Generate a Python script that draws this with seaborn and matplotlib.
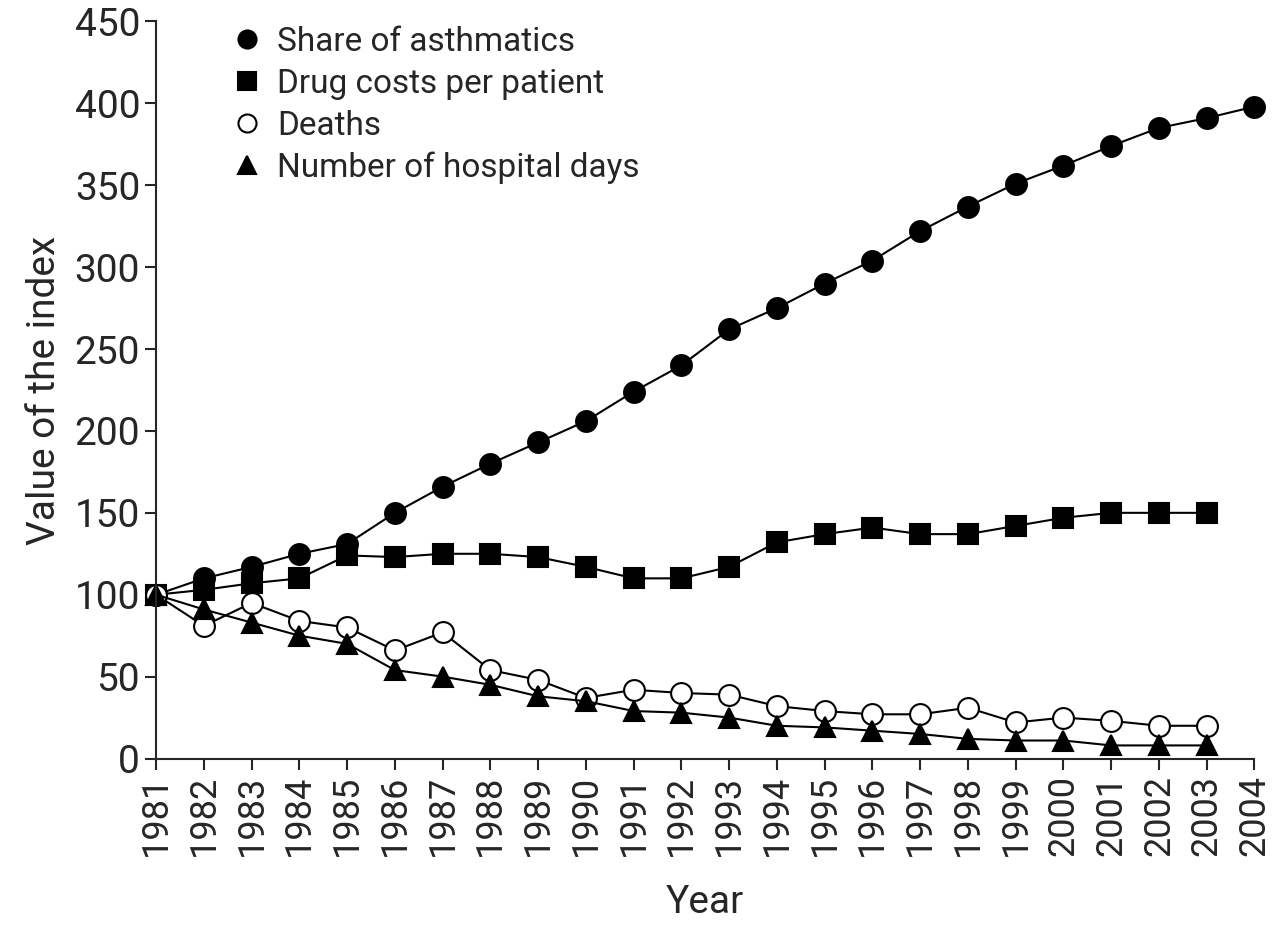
import matplotlib
matplotlib.use("Agg")
import matplotlib.pyplot as plt
import seaborn as sns
import pandas as pd

years = list(range(1981, 2005))
share = [100,110,117,125,131,150,166,180,193,206,224,240,262,275,290,304,322,337,351,362,374,385,391,398]
drug = [100,103,107,110,124,123,125,125,123,117,110,110,117,132,137,141,137,137,142,147,150,150,150]
deaths = [100,81,95,84,80,66,77,54,48,37,42,40,39,32,29,27,27,31,22,25,23,20,20]
hosp = [100,91,83,75,70,54,50,45,38,35,29,28,25,20,19,17,15,12,11,11,8,8,8]
labels = ["Share of asthmatics","Drug costs per patient","Deaths","Number of hospital days"]

sns.set_style("ticks")
plt.rcParams['font.family'] = ['Roboto', 'DejaVu Sans']
fig, ax = plt.subplots(figsize=(12.8, 9.33), dpi=100)
fig.subplots_adjust(left=0.122, right=0.98, top=0.977, bottom=0.187)

series = [(share, 'o', 'black'), (drug, 's', 'black'), (deaths, 'o', 'white'), (hosp, '^', 'black')]
for (vals, m, fc), lab in zip(series, labels):
    df = pd.DataFrame({"Year": years[:len(vals)], "v": vals})
    sns.lineplot(data=df, x="Year", y="v", ax=ax, color='black', lw=1.5, marker=m,
                 markersize=15, markerfacecolor=fc, markeredgecolor='black', markeredgewidth=1.5,
                 label=lab, clip_on=False)

ax.set_xlim(1981, 2004)
ax.set_ylim(0, 450)
ax.set_xticks(years)
ax.set_xticklabels([str(y) for y in years], rotation=90, fontsize=26)
ax.set_yticks(range(0, 451, 50))
ax.tick_params(axis='y', labelsize=28, length=8, width=1.5)
ax.tick_params(axis='x', length=8, width=1.5)
for s in ['top', 'right']:
    ax.spines[s].set_visible(False)
for s in ['left', 'bottom']:
    ax.spines[s].set_linewidth(1.5)
ax.set_xlabel("Year", fontsize=28, labelpad=20)
ax.set_ylabel("Value of the index", fontsize=28, labelpad=8)
ax.legend(loc='upper left', bbox_to_anchor=(0.04, 1.035), frameon=False, fontsize=24,
          handlelength=1, handletextpad=0.4, labelspacing=0.3)
for h in ax.get_legend().get_lines():
    h.set_linestyle('none'); h.set_markersize(13)
fig.savefig("out.png", dpi=100)
